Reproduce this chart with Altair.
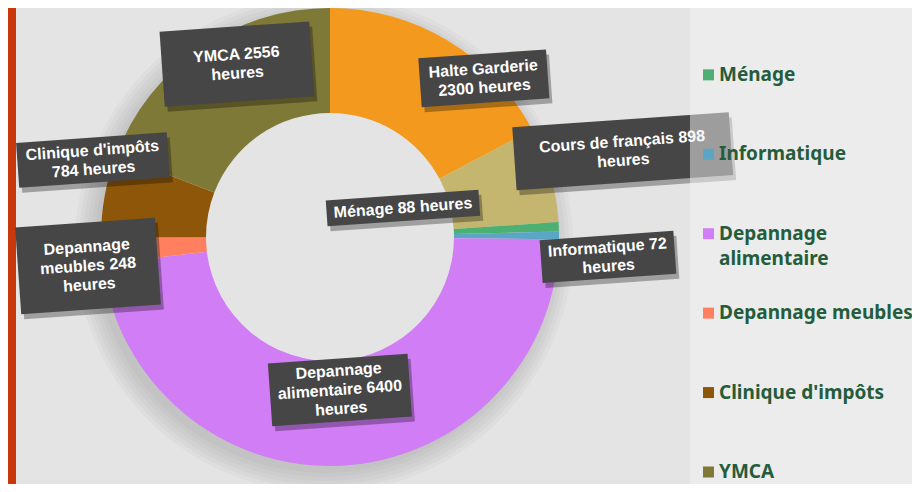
import altair as alt
import pandas as pd

# ---------------- data ----------------
categories = ["Halte Garderie", "Cours de français", "Ménage", "Informatique",
              "Depannage alimentaire", "Depannage meubles", "Clinique d'impôts", "YMCA"]
hours = [2300, 898, 88, 72, 6400, 248, 784, 2556]
colors = ["#F39A1E", "#C4B56F", "#4CB072", "#5BA5C5",
          "#D07DF6", "#FF7F5E", "#8D5609", "#7E7936"]

# how each callout text is broken into lines
label_templates = [
    "{c}\n{h} heures",
    "{c} {h}\nheures",
    "{c} {h} heures",
    "{c} {h}\nheures",
    "{c0}\n{c1} {h}\nheures",
    "{c0}\n{c1} {h}\nheures",
    "{c}\n{h} heures",
    "{c} {h}\nheures",
]
legend_breaks = {"Depannage alimentaire": ["Depannage", "alimentaire"]}

# ---------------- layout (callout placement) ----------------
W, H = 904, 476
CX, CY = 322, 229
R_OUT, R_IN = 229, 124
LH = 19
label_r = [221, 305, 78.5, 278.7, 153.3, 243.7, 249.2, 196.4]
label_dang = [13.1, -0.5, -19.1, 4.5, -0.6, -3.4, 7.5, 6.2]
box_w = [128, 217, 153, 134, 140, 140, 151, 150]
box_h = [49, 63, 26, 43, 63, 87, 45, 75]


def label_lines(tpl, c, h):
    parts = c.split(" ", 1)
    s = tpl.format(c=c, h=h, c0=parts[0], c1=parts[-1])
    return s.split("\n")


df = pd.DataFrame({"category": categories, "hours": hours, "idx": range(len(categories))})

lab_df = df.copy()
lab_df["lines"] = [label_lines(t, c, h) for t, c, h in zip(label_templates, categories, hours)]
lab_df["nl"] = [len(l) for l in lab_df["lines"]]
lab_df["r"] = label_r
lab_df["dang"] = label_dang
lab_df["bw"] = box_w
lab_df["bh"] = box_h

leg_df = df.copy()
leg_df["lines"] = [legend_breaks.get(c, [c]) for c in categories]

color_scale = alt.Scale(domain=categories, range=colors)

# ---------------- layers ----------------
one = pd.DataFrame({"a": [0]})

stripe = alt.Chart(one).mark_rect(color="#C9380B").encode(
    x=alt.value(0), x2=alt.value(8), y=alt.value(0), y2=alt.value(H))

shadow_rings = [
    alt.Chart(one).mark_arc(radius=R_OUT + k, innerRadius=R_OUT - 10, theta=0,
                            theta2=6.2832, color="#000000", opacity=0.025).encode(
        x=alt.value(CX - 6), y=alt.value(CY + 7))
    for k in (0, 4, 8, 12, 16, 20)
]

arcs = alt.Chart(df).mark_arc(radius=R_OUT, innerRadius=R_IN, strokeWidth=0).encode(
    theta=alt.Theta("hours:Q", stack=True),
    color=alt.Color("category:N", scale=color_scale, legend=None),
    order=alt.Order("idx:Q"),
    x=alt.value(CX), y=alt.value(CY),
)

lab = alt.Chart(lab_df).transform_joinaggregate(
    total="sum(hours)"
).transform_window(
    cum="sum(hours)", sort=[alt.SortField("idx")], frame=[None, 0]
).transform_calculate(
    mid="(datum.cum - datum.hours/2)/datum.total*2*PI + datum.dang*PI/180",
    shift=f"(datum.nl - 1) * {LH} / 2",
).transform_calculate(
    px=f"{CX} + datum.r*sin(datum.mid)",
    py=f"{CY} - datum.r*cos(datum.mid)",
    path="'M' + (-datum.bw/2) + ',' + (-datum.bh/2) + 'H' + (datum.bw/2) + 'V' + (datum.bh/2) + 'H' + (-datum.bw/2) + 'Z'",
).transform_calculate(
    tx="datum.px - datum.shift*sin(4*PI/180)",
    ty="datum.py - datum.shift*cos(4*PI/180)",
)

pos = dict(x=alt.X("px:Q", scale=None, axis=None), y=alt.Y("py:Q", scale=None, axis=None))
tpos = dict(x=alt.X("tx:Q", scale=None, axis=None), y=alt.Y("ty:Q", scale=None, axis=None))

shadow = lab.mark_point(filled=True, color="#000000", opacity=0.3, size=4, angle=356,
                        xOffset=3, yOffset=5, strokeWidth=0).encode(
    shape=alt.Shape("path:N", scale=None, legend=None), **pos)
box = lab.mark_point(filled=True, color="#464646", opacity=1, size=4, angle=356,
                     strokeWidth=0).encode(
    shape=alt.Shape("path:N", scale=None, legend=None), **pos)
text = lab.mark_text(color="white", font="Liberation Sans", fontWeight="bold",
                     fontSize=16, lineHeight=LH, angle=356, align="center",
                     baseline="middle").encode(text="lines:N", **tpos)

panel = alt.Chart(one).mark_rect(color="#F4F4F4", opacity=0.5).encode(
    x=alt.value(682), x2=alt.value(W), y=alt.value(0), y2=alt.value(H))

leg_y = alt.Y("category:N", axis=None,
              scale=alt.Scale(type="point", domain=categories, range=[-92, 464], padding=0))

leg_sym = alt.Chart(leg_df).mark_square(size=121, opacity=1).encode(
    x=alt.value(700.5), y=leg_y,
    color=alt.Color("category:N", scale=color_scale, legend=None))
leg_txt = alt.Chart(leg_df).mark_text(align="left", baseline="middle", font="Noto Sans",
                                      fontWeight="bold", fontSize=19, lineHeight=25,
                                      color="#255C3B").encode(
    x=alt.value(711), y=leg_y, text="lines:N")

chart = alt.layer(stripe, *shadow_rings, arcs, shadow, box, text, panel, leg_sym, leg_txt).properties(
    width=W, height=H, background="#E4E4E4", padding=0, autosize="none"
).configure_view(stroke=None)

chart.save("out.html", embed_options={"renderer": "svg", "actions": False})
